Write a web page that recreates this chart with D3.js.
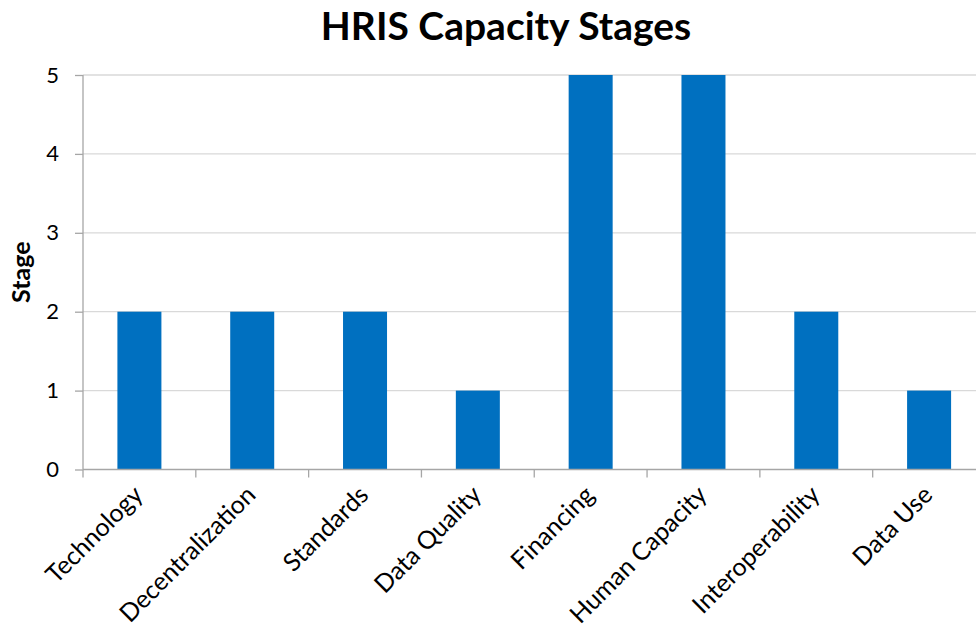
<!DOCTYPE html>
<head>
  <meta charset="utf-8">
  <script src="https://d3js.org/d3.v7.min.js"></script>
  <style>
    body { margin:0; background:#fff; overflow:hidden; }
    text { font-family: Lato, "Open Sans", sans-serif; fill:#000; }
  </style>
</head>
<body>
  <svg id="svgelem" width="976" height="629"></svg>
  <script>
    // chart data
    var categories = ["Technology", "Decentralization", "Standards", "Data Quality",
                      "Financing", "Human Capacity", "Interoperability", "Data Use"];
    var stages = [2, 2, 2, 1, 5, 5, 2, 1];
    var yTicks = [0, 1, 2, 3, 4, 5];

    var svg = d3.select("#svgelem");
    var plotLeft = 83, plotRight = 985.5, plotTop = 75, plotBottom = 469.5;

    var xRange = d3.scaleBand().domain(categories).range([plotLeft, plotRight]).paddingInner(0.61).paddingOuter(0.305);
    var yRange = d3.scaleLinear().domain([0, 5]).range([plotBottom, plotTop]);
    var bandStep = xRange.step();

    // gridlines
    svg.append("g").selectAll("line").data(yTicks.slice(1)).enter().append("line")
      .attr("x1", plotLeft).attr("x2", plotRight)
      .attr("y1", function(d){ return yRange(d); })
      .attr("y2", function(d){ return yRange(d); })
      .attr("stroke", "#d9d9d9").attr("stroke-width", 1.3);

    // bars
    svg.append("g").selectAll("rect").data(stages).enter().append("rect")
      .attr("x", function(d, i){ return xRange(categories[i]); })
      .attr("width", xRange.bandwidth())
      .attr("y", function(d){ return yRange(d); })
      .attr("height", function(d){ return plotBottom - yRange(d); })
      .attr("fill", "#0070C0");

    // y axis
    var yAxis = d3.axisLeft(yRange).tickValues(yTicks).tickSize(8).tickPadding(16).tickFormat(d3.format("d"));
    var gy = svg.append("g").attr("transform", "translate(" + plotLeft + ",0)").call(yAxis);
    gy.select(".domain").attr("stroke", "#a6a6a6").attr("stroke-width", 1.3).attr("d", "M0," + plotTop + "V" + plotBottom);
    gy.selectAll(".tick line").attr("stroke", "#a6a6a6").attr("stroke-width", 1.3);
    gy.selectAll(".tick text").style("font-size", "22px").attr("fill", "#000");

    // x axis line + ticks between categories
    var gx = svg.append("g");
    gx.append("line").attr("x1", plotLeft).attr("x2", plotRight).attr("y1", plotBottom).attr("y2", plotBottom)
      .attr("stroke", "#a6a6a6").attr("stroke-width", 1.3);
    gx.selectAll("line.tk").data(d3.range(categories.length + 1)).enter().append("line")
      .attr("class", "tk")
      .attr("x1", function(i){ return plotLeft + i * bandStep; })
      .attr("x2", function(i){ return plotLeft + i * bandStep; })
      .attr("y1", plotBottom).attr("y2", plotBottom + 8)
      .attr("stroke", "#a6a6a6").attr("stroke-width", 1.3);

    // category labels
    gx.selectAll("text").data(categories).enter().append("text")
      .attr("transform", function(d){
        var cx = xRange(d) + xRange.bandwidth() / 2 + 5;
        return "translate(" + cx + "," + (plotBottom + 27) + ") rotate(-45)";
      })
      .attr("text-anchor", "end")
      .style("font-size", "25px")
      .text(function(d){ return d; });

    // y label
    svg.append("text")
      .attr("transform", "translate(30," + ((plotTop + plotBottom) / 2) + ") rotate(-90)")
      .attr("text-anchor", "middle")
      .style("font-size", "25px").style("font-weight", "bold")
      .text("Stage");

    // title
    svg.append("text")
      .attr("x", 506).attr("y", 40)
      .attr("text-anchor", "middle")
      .style("font-size", "39px").style("font-weight", "bold")
      .text("HRIS Capacity Stages");
  </script>
</body>
